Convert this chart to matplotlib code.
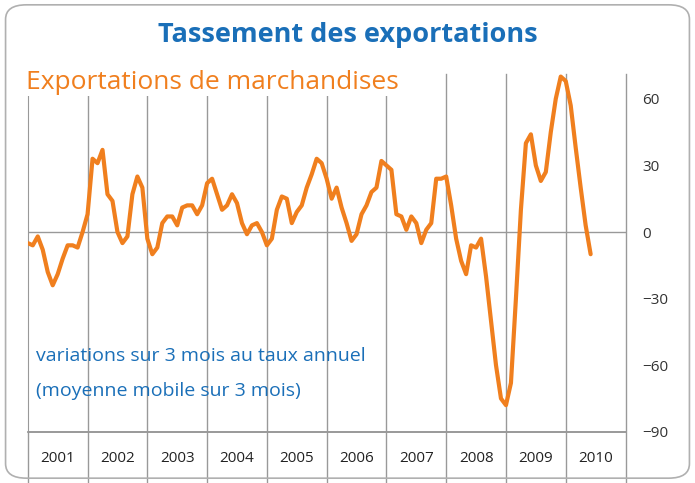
import matplotlib
matplotlib.use("Agg")
import matplotlib.pyplot as plt
from matplotlib.patches import FancyBboxPatch
import numpy as np

years = ["2001","2002","2003","2004","2005","2006","2007","2008","2009","2010"]
vals = [-5,-6,-2,-8,-18,-24,-19,-12,-6,-6,-7,0,
        8,33,31,37,17,14,0,-5,-2,17,25,20,
        -3,-10,-7,4,7,7,3,11,12,12,8,12,
        22,24,17,10,12,17,13,4,-1,3,4,0,
        -6,-3,10,16,15,4,9,12,20,26,33,31,
        24,15,20,11,4,-4,-1,8,12,18,20,32,
        30,28,8,7,1,7,4,-5,1,4,24,24,
        25,12,-3,-13,-19,-6,-7,-3,-20,-40,-60,-75,
        -78,-68,-30,10,40,44,30,23,27,45,60,70,
        68,57,38,20,3,-10]
yticks = [60,30,0,-30,-60,-90]

plt.rcParams["font.family"] = "Open Sans"
fig = plt.figure(figsize=(6.95,4.83), dpi=100)
fig.patches.append(FancyBboxPatch((0.008,0.01),0.984,0.98,boxstyle="round,pad=0,rounding_size=0.03",
    transform=fig.transFigure, fill=False, ec="#b0b0b0", lw=1.2))
ax = fig.add_axes([0.04,0.106,0.86,0.74])
x = 2001 + np.arange(len(vals))/12
ax.plot(x, vals, color="#f07f1e", lw=3, solid_capstyle="round", zorder=3)
ax.set_xlim(2001,2011)
ax.set_ylim(-90,71)
for s in ["top","bottom","right"]:
    ax.spines[s].set_visible(False)
ax.spines["left"].set_color("#999999")
ax.axhline(0,color="#999999",lw=1)
ax.axhline(-90,color="#888888",lw=1.2,clip_on=False)
for yr in range(2002,2012):
    ax.plot([yr,yr],[-0.15,1],transform=ax.get_xaxis_transform(),color="#999999",lw=1,clip_on=False)
ax.plot([2001,2001],[-0.15,0],transform=ax.get_xaxis_transform(),color="#999999",lw=1,clip_on=False)
for i,yl in enumerate(years):
    ax.text(2001.5+i,-0.075,yl,transform=ax.get_xaxis_transform(),ha="center",va="center",fontsize=11,color="#222222")
ax.set_xticks([])
ax.yaxis.tick_right()
ax.set_yticks(yticks)
ax.tick_params(axis="y",length=0,pad=12,labelsize=11,labelcolor="#333333")
fig.text(0.5,0.927,"Tassement des exportations",ha="center",va="center",fontsize=19.5,fontweight="bold",color="#1a6fb8")
fig.text(0.037,0.83,"Exportations de marchandises",ha="left",va="center",fontsize=19,color="#f07f1e",
         bbox=dict(fc="white",ec="none",pad=1))
fig.text(0.052,0.262,"variations sur 3 mois au taux annuel",ha="left",va="center",fontsize=14,color="#1a6fb8")
fig.text(0.052,0.19,"(moyenne mobile sur 3 mois)",ha="left",va="center",fontsize=14,color="#1a6fb8")
fig.savefig("out.png",dpi=100)
